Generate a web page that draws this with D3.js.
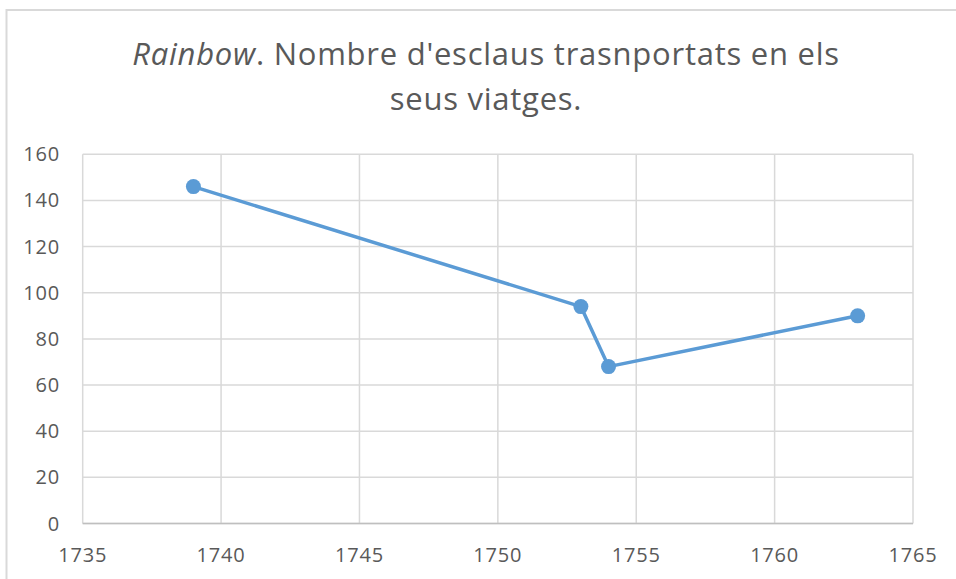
<!DOCTYPE html>
<meta charset="utf-8">
<style>
body { margin: 0; background: #fff; }
text { font-family: "Open Sans", sans-serif; fill: #595959; }
.grid line { stroke: #d9d9d9; stroke-width: 1.5; }
</style>
<body>
<script src="https://cdn.jsdelivr.net/npm/d3@7"></script>
<script>

// data
var years = [1739, 1753, 1754, 1763];
var slaves = [146, 94, 68, 90];
var xTicks = [1735, 1740, 1745, 1750, 1755, 1760, 1765];
var yTicks = [0, 20, 40, 60, 80, 100, 120, 140, 160];

var W = 956, H = 579;
var plot = {left: 82.7, right: 913, top: 154.3, bottom: 523.5};

var svg = d3.select("body").append("svg")
    .attr("width", W)
    .attr("height", H);

// chart border
svg.append("rect")
    .attr("x", 6.5).attr("y", 10)
    .attr("width", 960).attr("height", 580)
    .attr("fill", "#fff")
    .attr("stroke", "#d9d9d9")
    .attr("stroke-width", 2);

// title
var title = svg.append("text")
    .attr("text-anchor", "middle")
    .style("font-size", "31px")
    .style("letter-spacing", "0.75px");
var l1 = title.append("tspan").attr("x", 486).attr("y", 65);
l1.append("tspan").style("font-style", "italic").text("Rainbow");
l1.append("tspan").text(". Nombre d'esclaus trasnportats en els");
title.append("tspan").attr("x", 486).attr("y", 110).text("seus viatges.");

var x = d3.scaleLinear().domain([1735, 1765]).range([plot.left, plot.right]);
var y = d3.scaleLinear().domain([0, 160]).range([plot.bottom, plot.top]);

// gridlines
var grid = svg.append("g").attr("class", "grid");
grid.selectAll(".h").data(yTicks).enter().append("line")
    .attr("x1", plot.left).attr("x2", plot.right)
    .attr("y1", function (d) { return y(d); })
    .attr("y2", function (d) { return y(d); });
grid.selectAll(".v").data(xTicks).enter().append("line")
    .attr("y1", plot.top).attr("y2", plot.bottom)
    .attr("x1", function (d) { return x(d); })
    .attr("x2", function (d) { return x(d); });

// x axis line (slightly darker)
svg.append("line")
    .attr("x1", plot.left).attr("x2", plot.right)
    .attr("y1", y(0)).attr("y2", y(0))
    .attr("stroke", "#bfbfbf").attr("stroke-width", 1.5);

// tick labels
svg.append("g").selectAll("text").data(yTicks).enter().append("text")
    .attr("x", 60)
    .attr("y", function (d) { return y(d) + 7; })
    .attr("text-anchor", "end")
    .style("font-size", "20px")
    .style("letter-spacing", "0.8px")
    .text(function (d) { return d; });

svg.append("g").selectAll("text").data(xTicks).enter().append("text")
    .attr("x", function (d) { return x(d); })
    .attr("y", 562)
    .attr("text-anchor", "middle")
    .style("font-size", "20px")
    .style("letter-spacing", "0.8px")
    .text(function (d) { return d; });

// series
var pts = years.map(function (d, i) { return [d, slaves[i]]; });

svg.append("path")
    .datum(pts)
    .attr("fill", "none")
    .attr("stroke", "#5b9bd5")
    .attr("stroke-width", 3.5)
    .attr("stroke-linejoin", "round")
    .attr("d", d3.line()
        .x(function (d) { return x(d[0]); })
        .y(function (d) { return y(d[1]); }));

svg.selectAll(".dot").data(pts).enter().append("circle")
    .attr("cx", function (d) { return x(d[0]); })
    .attr("cy", function (d) { return y(d[1]); })
    .attr("r", 7.5)
    .attr("fill", "#5b9bd5");

</script>
</body>
